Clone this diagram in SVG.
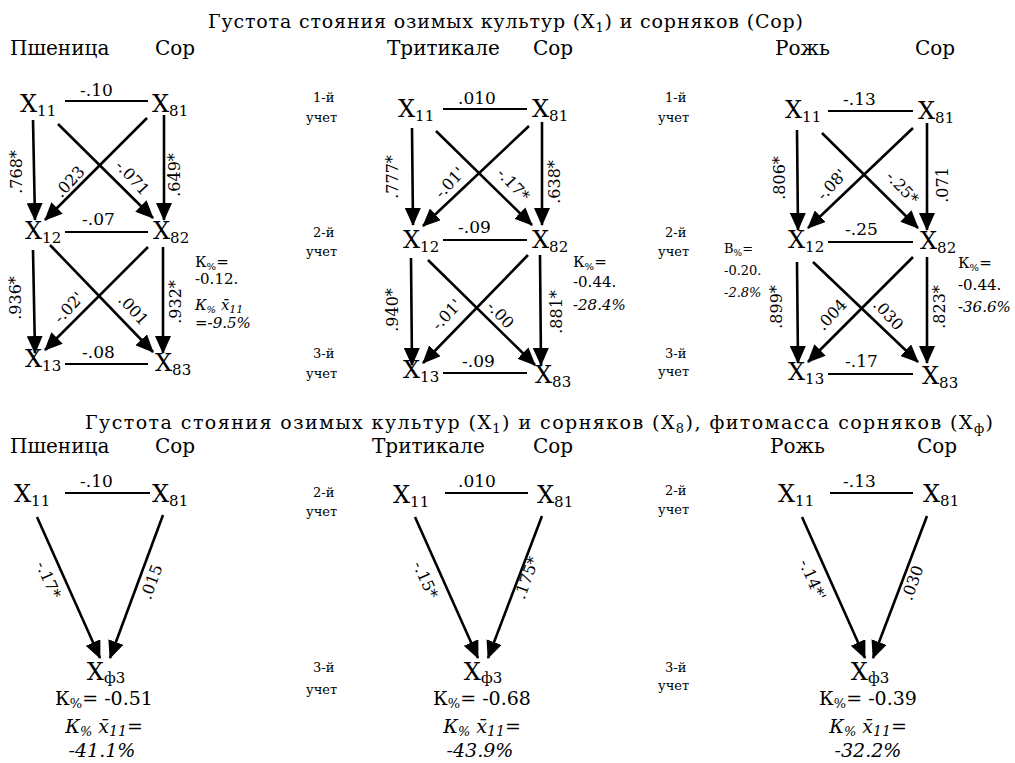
<svg xmlns="http://www.w3.org/2000/svg" width="1015" height="763" viewBox="0 0 1015 763">
<defs>
<marker id="ah" markerUnits="userSpaceOnUse" markerWidth="18" markerHeight="16" refX="17" refY="8" orient="auto"><path d="M0,0 L18,8 L0,16 z" fill="#000"/></marker>
</defs>
<style>
text{font-family:"DejaVu Serif","Liberation Serif",serif;fill:#000}
.ti{font-size:19px}
.hd{font-size:20px}
.n{font-size:24px}
.s{font-size:15px}
.v{font-size:17px}
.r{font-size:16px}
.m{font-size:13px}
.k{font-size:15px}
.kb{font-size:19px}
.it{font-style:italic}
.e{stroke:#000;stroke-width:2.6;fill:none;marker-end:url(#ah)}
.h{stroke:#000;stroke-width:2}
</style>
<rect width="1015" height="763" fill="#fff"/>

<!-- titles and headers -->
<g id="titles">
<text class="ti" x="208" y="28" textLength="595" lengthAdjust="spacing">Густота стояния озимых культур (X<tspan font-size="13" dy="4">1</tspan><tspan dy="-4">) и сорняков (Сор)</tspan></text>
<text class="hd" x="10" y="55">Пшеница</text>
<text class="hd" x="155" y="55">Сор</text>
<text class="hd" x="387" y="55">Тритикале</text>
<text class="hd" x="533" y="55">Сор</text>
<text class="hd" x="775" y="55">Рожь</text>
<text class="hd" x="915" y="55">Сор</text>
<text class="ti" x="85" y="429" textLength="908" lengthAdjust="spacing">Густота стояния озимых культур (X<tspan font-size="13" dy="4">1</tspan><tspan dy="-4">) и сорняков (X</tspan><tspan font-size="13" dy="4">8</tspan><tspan dy="-4">), фитомасса сорняков (X</tspan><tspan font-size="13" dy="4">ф</tspan><tspan dy="-4">)</tspan></text>
<text class="hd" x="10" y="453">Пшеница</text>
<text class="hd" x="155" y="453">Сор</text>
<text class="hd" x="372" y="453">Тритикале</text>
<text class="hd" x="533" y="453">Сор</text>
<text class="hd" x="770" y="453">Рожь</text>
<text class="hd" x="917" y="453">Сор</text>
</g>

<g id="counts">
<text class="m" x="313" y="102">1-й</text><text class="m" x="306" y="122">учет</text>
<text class="m" x="313" y="237">2-й</text><text class="m" x="306" y="256">учет</text>
<text class="m" x="313" y="358">3-й</text><text class="m" x="306" y="378">учет</text>
<text class="m" x="665" y="102">1-й</text><text class="m" x="658" y="122">учет</text>
<text class="m" x="665" y="237">2-й</text><text class="m" x="658" y="256">учет</text>
<text class="m" x="665" y="358">3-й</text><text class="m" x="658" y="376">учет</text>
<text class="m" x="313" y="497">2-й</text><text class="m" x="306" y="516">учет</text>
<text class="m" x="313" y="672">3-й</text><text class="m" x="306" y="694">учет</text>
<text class="m" x="665" y="495">2-й</text><text class="m" x="658" y="514">учет</text>
<text class="m" x="665" y="672">3-й</text><text class="m" x="658" y="690">учет</text>
</g>

<!-- connectors -->
<g id="connectors">
<line class="h" x1="65" y1="101" x2="148" y2="101"/>
<line class="h" x1="65" y1="232" x2="148" y2="232"/>
<line class="h" x1="65" y1="364" x2="148" y2="364"/>
<line class="e" x1="33" y1="120" x2="35" y2="220"/>
<line class="e" x1="164" y1="115" x2="164" y2="220"/>
<line class="e" x1="58" y1="124" x2="153" y2="218"/>
<line class="e" x1="147" y1="118" x2="45" y2="220"/>
<line class="e" x1="33" y1="250" x2="35" y2="353"/>
<line class="e" x1="163" y1="247" x2="163" y2="353"/>
<line class="e" x1="50" y1="245" x2="153" y2="352"/>
<line class="e" x1="148" y1="247" x2="45" y2="350"/>
<line class="h" x1="443" y1="109" x2="527" y2="109"/>
<line class="h" x1="443" y1="240" x2="527" y2="240"/>
<line class="h" x1="443" y1="373" x2="527" y2="373"/>
<line class="e" x1="412" y1="128" x2="413" y2="225"/>
<line class="e" x1="542" y1="122" x2="542" y2="225"/>
<line class="e" x1="436" y1="131" x2="532" y2="225"/>
<line class="e" x1="529" y1="126" x2="423" y2="226"/>
<line class="e" x1="411" y1="258" x2="412" y2="365"/>
<line class="e" x1="540" y1="255" x2="541" y2="365"/>
<line class="e" x1="428" y1="260" x2="535" y2="365"/>
<line class="e" x1="528" y1="255" x2="423" y2="363"/>
<line class="h" x1="828" y1="111" x2="913" y2="111"/>
<line class="h" x1="828" y1="242" x2="913" y2="242"/>
<line class="h" x1="828" y1="374" x2="913" y2="374"/>
<line class="e" x1="797" y1="130" x2="798" y2="230"/>
<line class="e" x1="927" y1="123" x2="927" y2="230"/>
<line class="e" x1="822" y1="133" x2="918" y2="228"/>
<line class="e" x1="913" y1="128" x2="808" y2="228"/>
<line class="e" x1="797" y1="262" x2="798" y2="363"/>
<line class="e" x1="927" y1="257" x2="927" y2="363"/>
<line class="e" x1="813" y1="262" x2="918" y2="362"/>
<line class="e" x1="913" y1="257" x2="808" y2="362"/>
<line class="h" x1="65" y1="493" x2="150" y2="493"/>
<line class="e" x1="37" y1="517" x2="100" y2="658"/>
<line class="e" x1="163" y1="515" x2="110" y2="658"/>
<line class="h" x1="445" y1="493" x2="528" y2="493"/>
<line class="e" x1="415" y1="517" x2="478" y2="658"/>
<line class="e" x1="542" y1="516" x2="488" y2="658"/>
<line class="h" x1="830" y1="493" x2="913" y2="493"/>
<line class="e" x1="802" y1="517" x2="865" y2="658"/>
<line class="e" x1="927" y1="516" x2="873" y2="658"/>
</g>

<!-- connector labels -->
<g id="edge-labels">
<text class="v" x="80" y="96">-.10</text>
<text class="v" x="82" y="225">-.07</text>
<text class="v" x="82" y="358">-.08</text>
<text class="r" text-anchor="middle" transform="translate(17,172) rotate(-90)" y="5">.768*</text>
<text class="r" text-anchor="middle" transform="translate(175,175) rotate(-90)" y="5">.649*</text>
<text class="r" text-anchor="middle" transform="translate(70,182) rotate(-47)" y="5">.023</text>
<text class="r" text-anchor="middle" transform="translate(132,178) rotate(47)" y="5">-.071</text>
<text class="r" text-anchor="middle" transform="translate(16,298) rotate(-90)" y="5">.936*</text>
<text class="r" text-anchor="middle" transform="translate(176,302) rotate(-90)" y="5">.932*</text>
<text class="r" text-anchor="middle" transform="translate(69,308) rotate(-47)" y="5">-.02'</text>
<text class="r" text-anchor="middle" transform="translate(133,310) rotate(47)" y="5">.001</text>

<text class="v" x="458" y="104">.010</text>
<text class="v" x="458" y="233">-.09</text>
<text class="v" x="462" y="367">-.09</text>
<text class="r" text-anchor="middle" transform="translate(393,177) rotate(-90)" y="5">.777*</text>
<text class="r" text-anchor="middle" transform="translate(555,182) rotate(-90)" y="5">.638*</text>
<text class="r" text-anchor="middle" transform="translate(450,183) rotate(-47)" y="5">-.01'</text>
<text class="r" text-anchor="middle" transform="translate(513,185) rotate(47)" y="5">-.17*</text>
<text class="r" text-anchor="middle" transform="translate(393,310) rotate(-90)" y="5">.940*</text>
<text class="r" text-anchor="middle" transform="translate(557,312) rotate(-90)" y="5">.881*</text>
<text class="r" text-anchor="middle" transform="translate(447,315) rotate(-47)" y="5">-.01'</text>
<text class="r" text-anchor="middle" transform="translate(500,315) rotate(47)" y="5">-.00</text>

<text class="v" x="843" y="105">-.13</text>
<text class="v" x="845" y="235">-.25</text>
<text class="v" x="845" y="367">-.17</text>
<text class="r" text-anchor="middle" transform="translate(780,178) rotate(-90)" y="5">.806*</text>
<text class="r" text-anchor="middle" transform="translate(943,185) rotate(-90)" y="5">.071</text>
<text class="r" text-anchor="middle" transform="translate(832,185) rotate(-47)" y="5">-.08'</text>
<text class="r" text-anchor="middle" transform="translate(902,188) rotate(47)" y="5">-.25*</text>
<text class="r" text-anchor="middle" transform="translate(777,307) rotate(-90)" y="5">.899*</text>
<text class="r" text-anchor="middle" transform="translate(940,307) rotate(-90)" y="5">.823*</text>
<text class="r" text-anchor="middle" transform="translate(832,315) rotate(-47)" y="5">.004</text>
<text class="r" text-anchor="middle" transform="translate(888,315) rotate(47)" y="5">.030</text>

<text class="v" x="80" y="487">-.10</text>
<text class="v" x="458" y="487">.010</text>
<text class="v" x="843" y="487">-.13</text>
<text class="r" text-anchor="middle" transform="translate(48,580) rotate(66)" y="5">-.17*</text>
<text class="r" text-anchor="middle" transform="translate(152,582) rotate(-70)" y="5">.015</text>
<text class="r" text-anchor="middle" transform="translate(425,580) rotate(66)" y="5">-.15*</text>
<text class="r" text-anchor="middle" transform="translate(527,578) rotate(-70)" y="5">.175*</text>
<text class="r" text-anchor="middle" transform="translate(812,580) rotate(66)" y="5">-.14*'</text>
<text class="r" text-anchor="middle" transform="translate(913,583) rotate(-70)" y="5">.030</text>
</g>

<!-- nodes row 1 -->
<g id="p1-x11"><text class="n" x="20" y="112">X<tspan class="s" dy="4">11</tspan></text></g>
<g id="p1-x81"><text class="n" x="152" y="112">X<tspan class="s" dy="4">81</tspan></text></g>
<g id="p1-x12"><text class="n" x="25" y="239">X<tspan class="s" dy="4">12</tspan></text></g>
<g id="p1-x82"><text class="n" x="153" y="239">X<tspan class="s" dy="4">82</tspan></text></g>
<g id="p1-x13"><text class="n" x="25" y="367">X<tspan class="s" dy="4">13</tspan></text></g>
<g id="p1-x83"><text class="n" x="155" y="371">X<tspan class="s" dy="4">83</tspan></text></g>
<g id="p1-k">
<text class="k" x="195" y="267">К<tspan font-size="10" dy="3">%</tspan><tspan dy="-3">=</tspan></text>
<text class="k" x="195" y="284">-0.12.</text>
<text class="k it" x="195" y="310">К<tspan font-size="10" dy="3">%</tspan><tspan dy="-3"> x̄</tspan><tspan font-size="11" dy="3">11</tspan></text>
<text class="k it" x="195" y="328">=-9.5%</text>
</g>

<g id="p2-x11"><text class="n" x="398" y="117">X<tspan class="s" dy="4">11</tspan></text></g>
<g id="p2-x81"><text class="n" x="532" y="117">X<tspan class="s" dy="4">81</tspan></text></g>
<g id="p2-x12"><text class="n" x="403" y="248">X<tspan class="s" dy="4">12</tspan></text></g>
<g id="p2-x82"><text class="n" x="532" y="248">X<tspan class="s" dy="4">82</tspan></text></g>
<g id="p2-x13"><text class="n" x="403" y="378">X<tspan class="s" dy="4">13</tspan></text></g>
<g id="p2-x83"><text class="n" x="535" y="383">X<tspan class="s" dy="4">83</tspan></text></g>
<g id="p2-k">
<text class="k" x="573" y="267">К<tspan font-size="10" dy="3">%</tspan><tspan dy="-3">=</tspan></text>
<text class="k" x="573" y="287">-0.44.</text>
<text class="k it" x="573" y="310">-28.4%</text>
</g>

<g id="p3-x11"><text class="n" x="785" y="118">X<tspan class="s" dy="4">11</tspan></text></g>
<g id="p3-x81"><text class="n" x="918" y="119">X<tspan class="s" dy="4">81</tspan></text></g>
<g id="p3-x12"><text class="n" x="788" y="248">X<tspan class="s" dy="4">12</tspan></text></g>
<g id="p3-x82"><text class="n" x="920" y="249">X<tspan class="s" dy="4">82</tspan></text></g>
<g id="p3-x13"><text class="n" x="788" y="380">X<tspan class="s" dy="4">13</tspan></text></g>
<g id="p3-x83"><text class="n" x="922" y="384">X<tspan class="s" dy="4">83</tspan></text></g>
<g id="p3-b">
<text class="m" x="724" y="253">В<tspan font-size="9" dy="3">%</tspan><tspan dy="-3">=</tspan></text>
<text class="m" x="724" y="275">-0.20.</text>
<text class="m it" x="724" y="297">-2.8%</text>
</g>
<g id="p3-k">
<text class="k" x="958" y="268">К<tspan font-size="10" dy="3">%</tspan><tspan dy="-3">=</tspan></text>
<text class="k" x="958" y="290">-0.44.</text>
<text class="k it" x="958" y="312">-36.6%</text>
</g>

<!-- nodes row 2 -->
<g id="q1-x11"><text class="n" x="14" y="502">X<tspan class="s" dy="4">11</tspan></text></g>
<g id="q1-x81"><text class="n" x="152" y="502">X<tspan class="s" dy="4">81</tspan></text></g>
<g id="q1-xf3">
<text class="n" text-anchor="middle" x="106" y="680">X<tspan class="s" dy="3">ф3</tspan></text>
<text class="kb" text-anchor="middle" x="104" y="705">К<tspan font-size="13" dy="3">%</tspan><tspan dy="-3">= -0.51</tspan></text>
<text class="kb it" text-anchor="middle" x="104" y="733">К<tspan font-size="13" dy="3">%</tspan><tspan dy="-3"> x̄</tspan><tspan font-size="14" dy="3">11</tspan><tspan dy="-3" font-style="normal">=</tspan></text>
<text class="kb it" text-anchor="middle" x="102" y="757">-41.1%</text>
</g>

<g id="q2-x11"><text class="n" x="393" y="503">X<tspan class="s" dy="4">11</tspan></text></g>
<g id="q2-x81"><text class="n" x="537" y="503">X<tspan class="s" dy="4">81</tspan></text></g>
<g id="q2-xf3">
<text class="n" text-anchor="middle" x="483" y="680">X<tspan class="s" dy="3">ф3</tspan></text>
<text class="kb" text-anchor="middle" x="482" y="705">К<tspan font-size="13" dy="3">%</tspan><tspan dy="-3">= -0.68</tspan></text>
<text class="kb it" text-anchor="middle" x="482" y="733">К<tspan font-size="13" dy="3">%</tspan><tspan dy="-3"> x̄</tspan><tspan font-size="14" dy="3">11</tspan><tspan dy="-3" font-style="normal">=</tspan></text>
<text class="kb it" text-anchor="middle" x="480" y="757">-43.9%</text>
</g>

<g id="q3-x11"><text class="n" x="778" y="502">X<tspan class="s" dy="4">11</tspan></text></g>
<g id="q3-x81"><text class="n" x="923" y="502">X<tspan class="s" dy="4">81</tspan></text></g>
<g id="q3-xf3">
<text class="n" text-anchor="middle" x="870" y="680">X<tspan class="s" dy="3">ф3</tspan></text>
<text class="kb" text-anchor="middle" x="868" y="705">К<tspan font-size="13" dy="3">%</tspan><tspan dy="-3">= -0.39</tspan></text>
<text class="kb it" text-anchor="middle" x="868" y="733">К<tspan font-size="13" dy="3">%</tspan><tspan dy="-3"> x̄</tspan><tspan font-size="14" dy="3">11</tspan><tspan dy="-3" font-style="normal">=</tspan></text>
<text class="kb it" text-anchor="middle" x="868" y="757">-32.2%</text>
</g>
</svg>
